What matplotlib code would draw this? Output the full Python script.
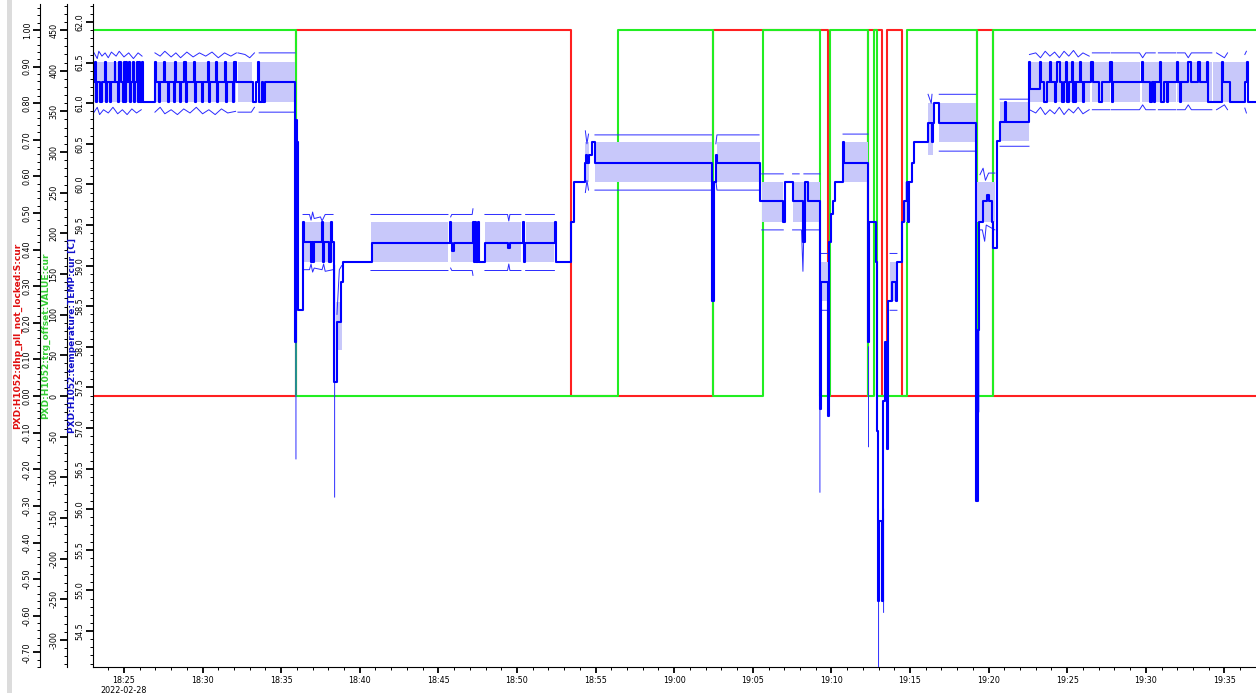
import datetime as dt
import numpy as np
import matplotlib
matplotlib.use('Agg')
import matplotlib.pyplot as plt
import matplotlib.dates as mdates
from matplotlib.ticker import MultipleLocator, FormatStrFormatter, FuncFormatter
from matplotlib.patches import Rectangle

# times are minutes after 2022-02-28 18:00
t_start = 23.03
t_end = 97.01

# PXD:H1052:dhp_pll_not_locked:S:cur
t_pll = [23.03, 35.94, 53.44, 62.47, 69.78, 72.36, 73.22, 73.54, 74.49, 79.26, 80.28, 97.01]
v_pll = [0, 1, 0, 1, 0, 1, 0, 1, 0, 1, 0, 0]

# PXD:H1052:trg_offset:VALUE:cur
t_trg = [23.03, 35.94, 56.42, 62.47, 65.65, 69.27, 69.91, 72.36, 72.71, 72.90, 74.81, 79.26, 80.28, 97.01]
v_trg = [450, 0, 450, 0, 450, 0, 450, 0, 450, 0, 450, 0, 450, 450]

# PXD:H1052:temperature:TEMP:cur  (mean, step)
t_temp = [23.03, 23.14, 23.20, 23.28, 23.50, 23.58, 23.78, 23.84, 23.92, 24.10, 24.18, 24.40, 24.46,
          24.62, 24.70, 24.78, 24.95, 25.02, 25.08, 25.15, 25.22, 25.30, 25.36, 25.44, 25.55, 25.62,
          25.70, 25.82, 25.88, 25.95, 26.05, 26.12, 26.20, 26.97, 27.03, 27.25, 27.31, 27.55, 27.60,
          27.80, 27.86, 28.20, 28.26, 28.32, 28.55, 28.62, 28.85, 28.92, 28.98, 29.45, 29.52, 29.60,
          29.95, 30.02, 30.35, 30.40, 30.46, 30.85, 30.92, 30.98, 31.45, 31.52, 31.58, 31.95, 32.02,
          32.10, 33.20, 33.40, 33.55, 33.62, 33.75, 33.85, 34.00,
          35.88, 35.93, 35.99, 36.05, 36.39, 36.45, 36.90, 36.96, 37.02, 37.08, 37.62, 37.68, 37.74,
          38.05, 38.15, 38.24, 38.36, 38.55, 38.78, 38.92, 40.78, 45.74, 45.78, 45.85, 45.98, 47.20,
          47.26, 47.33, 47.40, 47.55, 47.60, 47.96, 49.45, 49.55, 50.38, 50.44, 50.52, 52.42, 52.48,
          53.44, 53.63, 54.33, 54.40, 54.48, 54.58, 54.77, 54.96, 62.42, 62.55, 62.65, 62.72, 65.46,
          66.92, 67.02, 67.56, 68.19, 68.30, 68.51, 69.27, 69.36, 69.78, 69.84, 69.95, 70.10, 70.23,
          70.74, 70.80, 72.33, 72.42, 72.84, 72.90, 72.97, 73.02, 73.20, 73.26, 73.41, 73.54, 73.60,
          73.85, 74.11, 74.17, 74.49, 74.62, 74.81, 74.88, 74.95, 75.13, 75.25, 76.15, 76.40, 76.46,
          76.53, 76.84, 79.20, 79.30, 79.36, 79.64, 79.90, 80.03, 80.22, 80.28, 80.53, 80.73, 81.04,
          81.10, 82.58, 82.65, 83.27, 83.35, 83.52, 83.73, 83.91, 83.98, 84.22, 84.30, 84.37, 84.54,
          84.70, 84.78, 84.92, 85.01, 85.13, 85.28, 85.34, 85.42, 85.50, 85.58, 85.81, 85.88, 86.02,
          86.10, 86.51, 86.66, 87.04, 87.19, 87.72, 87.83, 87.93, 89.73, 89.84, 90.27, 90.37, 90.50,
          90.60, 90.90, 90.97, 91.16, 91.33, 91.40, 91.96, 92.03, 92.18, 92.25, 92.71, 92.86, 93.34,
          93.42, 93.87, 93.98, 94.83, 94.94, 95.36, 96.31, 96.42, 96.50, 97.01]
v_temp = [61.265, 61.51, 61.02, 61.265, 61.02, 61.265, 61.51, 61.02, 61.265, 61.02, 61.265, 61.51, 61.265,
          61.02, 61.51, 61.265, 61.02, 61.51, 61.02, 61.51, 61.265, 61.51, 61.02, 61.265, 61.51, 61.02,
          61.265, 61.51, 61.02, 61.51, 61.02, 61.51, 61.02, 61.51, 61.265, 61.02, 61.265, 61.51, 61.265,
          61.02, 61.265, 61.02, 61.51, 61.265, 61.02, 61.265, 61.51, 61.02, 61.265, 61.51, 61.02, 61.265,
          61.02, 61.265, 61.51, 61.02, 61.265, 61.51, 61.02, 61.265, 61.51, 61.02, 61.265, 61.02, 61.51,
          61.265, 61.02, 61.265, 61.51, 61.02, 61.265, 61.02, 61.265,
          58.06, 60.79, 60.52, 58.45, 59.54, 59.29, 59.04, 59.29, 59.04, 59.29, 59.54, 59.04, 59.29,
          59.04, 59.54, 59.29, 57.57, 58.31, 58.80, 59.04, 59.28, 59.54, 59.28, 59.18, 59.28, 59.54,
          59.04, 59.54, 59.04, 59.54, 59.04, 59.28, 59.22, 59.28, 59.54, 59.04, 59.28, 59.54, 59.04,
          59.54, 60.03, 60.27, 60.36, 60.27, 60.36, 60.52, 60.27, 58.56, 60.03, 60.36, 60.27, 59.79,
          59.54, 60.03, 59.79, 59.29, 60.03, 59.79, 57.24, 58.80, 57.15, 59.29, 59.64, 59.79, 60.03,
          60.52, 60.27, 58.06, 59.54, 59.04, 56.96, 54.87, 55.86, 54.87, 57.33, 58.06, 56.74, 58.56,
          58.80, 58.56, 59.04, 59.54, 59.79, 60.03, 59.54, 60.03, 60.27, 60.52, 60.76, 60.52, 60.76,
          61.00, 60.76, 56.10, 58.21, 59.54, 59.79, 59.87, 59.79, 59.54, 59.22, 60.53, 60.77, 61.02,
          60.77, 61.51, 61.18, 61.51, 61.265, 61.02, 61.265, 61.51, 61.265, 61.02, 61.265, 61.51, 61.265,
          61.02, 61.265, 61.51, 61.02, 61.265, 61.51, 61.02, 61.265, 61.02, 61.265, 61.51, 61.265, 61.02,
          61.265, 61.51, 61.265, 61.02, 61.265, 61.51, 61.02, 61.265, 61.51, 61.265, 61.02, 61.265, 61.02,
          61.265, 61.51, 61.02, 61.265, 61.02, 61.265, 61.51, 61.265, 61.02, 61.265, 61.51, 61.265, 61.51,
          61.265, 61.51, 61.02, 61.51, 61.265, 61.02, 61.265, 61.51, 61.02, 61.02]

# shaded band of the temperature (start, end, low, high)
band_t0 = [23.10, 26.97, 32.25, 33.60, 36.39, 38.50, 40.71, 45.78, 47.96, 50.55, 54.30, 54.96, 62.70,
           65.57, 67.53, 69.34, 70.74, 73.73, 74.70, 76.15, 76.86, 79.24, 80.73, 82.60, 86.55, 87.78,
           89.75, 92.00, 94.30]
band_t1 = [26.15, 32.15, 33.15, 35.88, 38.30, 38.85, 45.61, 47.20, 50.25, 52.38, 54.60, 62.38, 65.46,
           66.94, 69.27, 69.80, 72.33, 74.17, 74.90, 76.46, 79.18, 80.41, 82.57, 86.45, 87.70, 89.65,
           91.90, 94.20, 96.35]
band_lo = [61.02, 61.02, 61.02, 61.02, 59.04, 57.96, 59.04, 59.04, 59.04, 59.04, 60.03, 60.03, 60.03,
           59.54, 59.54, 58.56, 60.03, 58.56, 59.54, 60.36, 60.52, 59.54, 60.53, 61.02, 61.02, 61.02,
           61.02, 61.02, 61.02]
band_hi = [61.51, 61.51, 61.51, 61.51, 59.54, 58.55, 59.54, 59.54, 59.54, 59.54, 60.52, 60.52, 60.52,
           60.03, 60.03, 59.04, 60.52, 59.04, 60.03, 61.00, 61.00, 60.03, 61.02, 61.51, 61.51, 61.51,
           61.51, 61.51, 61.51]

nan = np.nan
# thin max trace
t_tmax = [23.10, 23.3, 23.4, 23.6, 23.8, 24.0, 24.2, 24.5, 24.7, 25.0, 25.3, 25.6, 25.9, 26.15, nan,
          26.97, 27.3, 27.6, 28.0, 28.3, 28.6, 29.0, 29.4, 29.8, 30.2, 30.6, 31.0, 31.4, 31.8, 32.15, nan,
          32.25, 32.7, 33.0, 33.3, nan, 33.6, 35.88, nan,
          36.39, 36.8, 36.9, 37.0, 37.1, 37.5, 37.6, 37.8, 38.3, nan,
          38.55, 38.70, 38.85, nan,
          40.71, 45.61, nan, 45.78, 45.85, 47.15, 47.2, nan, 47.96, 49.40, 49.48, 49.55, 50.25, nan,
          50.55, 52.38, nan,
          54.35, 54.45, 54.55, nan, 54.96, 62.38, nan, 62.65, 62.72, 65.40, nan, 65.57, 66.94, nan,
          67.53, 67.95, nan, 68.25, 69.27, nan,
          69.34, 69.80, nan, 70.74, 72.33, nan, 73.73, 74.17, nan, 76.15, 76.35, 76.40, nan,
          76.86, 79.18, nan, 79.45, 79.65, 79.80, 80.0, 80.4, nan, 80.73, 82.57, nan,
          82.6, 83.0, 83.3, 83.6, 83.9, 84.2, 84.5, 84.8, 85.1, 85.4, 85.7, 86.0, 86.4, nan,
          86.6, 87.7, nan, 87.8, 89.6, 89.8, 90.0, 90.6, nan, 90.8, 91.9, nan, 92.0, 92.5, 92.7, 92.9,
          94.2, nan, 94.5, 95.0, 95.2, nan, 96.3, 96.4]
v_tmax = [61.62, 61.55, 61.64, 61.58, 61.62, 61.56, 61.63, 61.58, 61.64, 61.57, 61.62, 61.55, 61.62, 61.58, nan,
          61.62, 61.58, 61.64, 61.57, 61.62, 61.56, 61.63, 61.57, 61.62, 61.58, 61.63, 61.56, 61.62, 61.58, 61.62, nan,
          61.62, 61.60, 61.56, 61.62, nan, 61.62, 61.62, nan,
          59.63, 59.63, 59.56, 59.66, 59.58, 59.60, 59.55, 59.63, 59.63, nan,
          58.40, 58.95, 59.00, nan,
          59.63, 59.63, nan, 59.60, 59.63, 59.63, 59.70, nan, 59.63, 59.63, 59.55, 59.63, 59.63, nan,
          59.63, 59.63, nan,
          60.66, 60.50, 60.62, nan, 60.61, 60.61, nan, 60.50, 60.61, 60.61, nan, 60.13, 60.13, nan,
          60.13, 60.13, nan, 60.13, 60.13, nan,
          59.15, 59.15, nan, 60.62, 60.62, nan, 59.15, 59.15, nan, 61.11, 61.00, 61.11, nan,
          61.11, 61.11, nan, 60.12, 60.20, 60.05, 60.14, 60.14, nan, 61.05, 61.05, nan,
          61.60, 61.62, 61.56, 61.64, 61.58, 61.63, 61.56, 61.64, 61.58, 61.65, 61.57, 61.62, 61.58, nan,
          61.62, 61.62, nan, 61.62, 61.62, 61.56, 61.62, 61.62, nan, 61.62, 61.62, nan, 61.62, 61.62, 61.56, 61.62,
          61.62, nan, 61.62, 61.56, 61.62, nan, 61.60, 61.64]

# thin min trace
t_tmin = [23.10, 23.3, 23.45, 23.7, 24.0, 24.3, 24.6, 24.9, 25.2, 25.5, 25.8, 26.1, nan,
          26.97, 27.3, 27.6, 28.0, 28.4, 28.8, 29.2, 29.6, 30.0, 30.4, 30.8, 31.2, 31.6, 32.1, nan,
          32.25, 33.1, 33.3, nan, 33.6, 35.88, nan, 35.94, 35.94, nan,
          36.39, 36.8, 36.9, 37.0, 37.1, 37.6, 37.7, 37.8, 38.3, nan, 38.40, 38.40, nan,
          40.71, 45.61, nan, 45.78, 45.85, 47.15, 47.2, nan, 47.96, 49.40, 49.48, 49.55, 50.25, nan,
          50.55, 52.38, nan,
          54.35, 54.45, 54.55, nan, 54.96, 62.38, nan, 62.65, 62.72, 65.40, nan, 65.57, 66.94, nan,
          67.53, 68.10, 68.19, 68.25, 69.27, nan,
          69.27, 69.27, nan, 69.34, 69.80, nan, 69.82, 69.82, nan, 72.36, 72.36, nan, 73.0, 73.0, nan,
          73.32, 73.32, nan, 73.73, 74.17, nan, 76.86, 79.18, nan, 79.38, 79.38, nan,
          79.45, 79.6, 79.75, 79.85, 80.4, nan, 80.73, 82.57, nan,
          82.6, 83.0, 83.3, 83.6, 83.9, 84.2, 84.5, 84.8, 85.1, 85.4, 85.7, 86.0, 86.4, nan,
          86.6, 87.7, nan, 87.8, 89.6, 89.8, 90.0, 90.6, nan, 90.8, 91.9, nan, 92.0, 92.5, 92.7, 92.9,
          94.2, nan, 94.5, 95.0, 95.2, nan, 96.3, 96.4]
v_tmin = [60.89, 60.95, 60.86, 60.92, 60.88, 60.95, 60.87, 60.92, 60.86, 60.93, 60.88, 60.92, nan,
          60.89, 60.95, 60.87, 60.92, 60.86, 60.93, 60.88, 60.95, 60.87, 60.92, 60.86, 60.93, 60.88, 60.90, nan,
          60.89, 60.89, 60.95, nan, 60.89, 60.89, nan, 60.50, 56.62, nan,
          58.95, 58.95, 59.02, 58.92, 58.97, 58.95, 59.02, 58.93, 58.95, nan, 59.00, 56.15, nan,
          58.94, 58.94, nan, 58.97, 58.94, 58.94, 58.88, nan, 58.94, 58.94, 59.02, 58.94, 58.94, nan,
          58.94, 58.94, nan,
          59.90, 60.05, 59.93, nan, 59.93, 59.93, nan, 60.05, 59.93, 59.93, nan, 59.44, 59.44, nan,
          59.44, 59.44, 58.93, 59.44, 59.44, nan,
          57.50, 56.21, nan, 58.45, 58.45, nan, 58.50, 57.15, nan, 58.00, 56.77, nan, 56.00, 54.06, nan,
          56.00, 54.73, nan, 58.45, 58.45, nan, 60.41, 60.41, nan, 59.00, 57.20, nan,
          59.44, 59.44, 59.30, 59.50, 59.44, nan, 60.47, 60.47, nan,
          60.92, 60.88, 60.95, 60.86, 60.92, 60.87, 60.95, 60.86, 60.93, 60.88, 60.95, 60.87, 60.92, nan,
          60.92, 60.92, nan, 60.92, 60.92, 60.98, 60.92, 60.92, nan, 60.92, 60.92, nan, 60.92, 60.92, 60.98, 60.92,
          60.92, nan, 60.92, 60.98, 60.92, nan, 60.94, 60.88]

base = mdates.date2num(dt.datetime(2022, 2, 28, 18, 0))


def tx(mins):
    return base + np.asarray(mins, dtype=float) / 1440.0


W, H = 1256, 693
fig = plt.figure(figsize=(W / 100, H / 100), dpi=100, facecolor='white')
ax = fig.add_axes([93 / W, 1 - 667 / H, (W - 93) / W, (667 - 4) / H])
ax_g = ax.twinx()
ax_r = ax.twinx()
ax_r.set_zorder(1)
ax_g.set_zorder(2)
ax.set_zorder(3)
ax.patch.set_visible(False)

# red and green step traces
ax_r.step(tx(t_pll), v_pll, where='post', color='#ff2020', lw=1.5)
ax_g.step(tx(t_trg), v_trg, where='post', color='#22ee22', lw=1.5)

# temperature band, envelope and mean
for a, b, lo, hi in zip(band_t0, band_t1, band_lo, band_hi):
    ax.fill_between(tx([a, b]), [lo, lo], [hi, hi], color='#c8c8fa', lw=0)
ax.plot(tx(t_tmax), v_tmax, color='#2a2aff', lw=0.7)
ax.plot(tx(t_tmin), v_tmin, color='#2a2aff', lw=0.7)
ax.step(tx(t_temp), v_temp, where='post', color='#0000ff', lw=1.5)

ax.set_xlim(tx([t_start, t_end]))
ax.set_ylim(54.057, 62.222)
ax_g.set_ylim(-333.2, 482.0)
ax_r.set_ylim(-0.740, 1.071)

ax.xaxis_date()
ax.xaxis.set_major_locator(mdates.MinuteLocator(byminute=range(0, 60, 5)))
ax.xaxis.set_minor_locator(mdates.MinuteLocator())


def fmt_time(x, pos):
    d = mdates.num2date(x)
    s = d.strftime('%H:%M')
    if pos == 0:
        s += '\n' + d.strftime('%Y-%m-%d')
    return s


ax.xaxis.set_major_formatter(FuncFormatter(fmt_time))

for a in (ax, ax_g, ax_r):
    for s in ('top', 'right'):
        a.spines[s].set_visible(False)
for a in (ax_g, ax_r):
    a.spines['bottom'].set_visible(False)
    a.spines['left'].set_visible(True)
    a.yaxis.tick_left()
    a.yaxis.set_label_position('left')
ax_g.spines['left'].set_position(('axes', (66.5 - 93) / (W - 93)))
ax_r.spines['left'].set_position(('axes', (40 - 93) / (W - 93)))

ax.yaxis.set_major_locator(MultipleLocator(0.5))
ax.yaxis.set_minor_locator(MultipleLocator(0.1))
ax.yaxis.set_major_formatter(FormatStrFormatter('%.1f'))
ax_g.yaxis.set_major_locator(MultipleLocator(50))
ax_g.yaxis.set_minor_locator(MultipleLocator(10))
ax_g.yaxis.set_major_formatter(FormatStrFormatter('%d'))
ax_r.yaxis.set_major_locator(MultipleLocator(0.1))
ax_r.yaxis.set_minor_locator(MultipleLocator(0.02))
ax_r.yaxis.set_major_formatter(FormatStrFormatter('%.2f'))

for a in (ax, ax_g, ax_r):
    a.tick_params(axis='y', which='major', length=5, width=1.3, labelsize=5.8,
                  labelrotation=90, pad=1, direction='out')
    a.tick_params(axis='y', which='minor', length=2.5, width=0.7, direction='out')
    for lab in a.get_yticklabels():
        lab.set_va('center')
ax.tick_params(axis='x', which='major', length=4.5, width=1.3, labelsize=5.8, pad=2)
ax.tick_params(axis='x', which='minor', length=2.5, width=0.7)

yc = 1 - 335.5 / H
fig.text(17.5 / W, yc, 'PXD:H1052:dhp_pll_not_locked:S:cur', rotation=90, ha='center',
         va='center', color='#e01010', fontsize=6.5, fontweight='bold')
fig.text(46 / W, yc, 'PXD:H1052:trg_offset:VALUE:cur', rotation=90, ha='center',
         va='center', color='#33cc33', fontsize=6.5, fontweight='bold')
fig.text(72.5 / W, yc, 'PXD:H1052:temperature:TEMP:cur [C]', rotation=90, ha='center',
         va='center', color='#1010cc', fontsize=6.5, fontweight='bold')

fig.patches.append(Rectangle((7 / W, 0), 5 / W, 1, transform=fig.transFigure,
                             facecolor='#dcdcdc', edgecolor='none'))

fig.savefig('out.png', dpi=100, facecolor='white')
